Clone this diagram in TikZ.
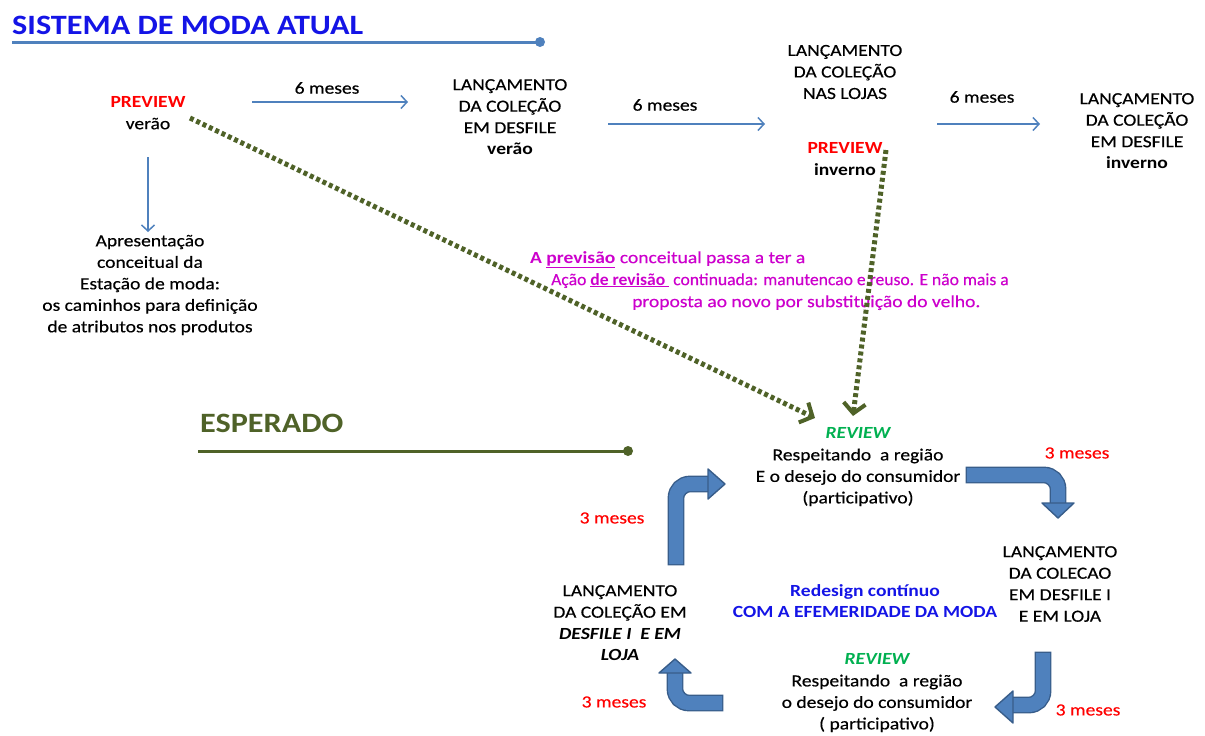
\documentclass[tikz,border=0pt]{standalone}
\usepackage{fontspec}
\usepackage{graphicx}
\setmainfont{Carlito}[FakeStretch=1.15, UprightFeatures={FakeBold=0.4}]
\usetikzlibrary{positioning,arrows.meta}
\definecolor{linhaazul}{HTML}{4F81BD}
\definecolor{bordaazul}{HTML}{385D8A}
\definecolor{oliva}{HTML}{4F6228}
\definecolor{rosa}{HTML}{CC00CC}
\definecolor{verde}{HTML}{00B050}
\definecolor{azultitulo}{HTML}{1414E6}
\tikzstyle{texto} = [align=center, inner sep=0pt, font=\fontsize{17}{21.5}\selectfont]
\tikzstyle{meses} = [texto, text=red]
\tikzstyle{fluxo} = [-{Straight Barb[length=6pt,width=13pt]}, linhaazul, line width=1.5pt]
\tikzstyle{pontilhado} = [oliva, line width=5pt, dash pattern=on 4pt off 3pt,
                          -{Straight Barb[length=10pt,width=22pt,line width=4pt]}]
\tikzstyle{haste} = [draw=bordaazul, line width=1.4pt, double=linhaazul, double distance=14pt,
                     line cap=rect, rounded corners=14pt]
\tikzstyle{ponta} = [draw=bordaazul, fill=linhaazul, line width=1.4pt, line join=round]

\begin{document}
\begin{tikzpicture}[x=1pt,y=-1pt]
		\useasboundingbox (0,0) rectangle (1205,736);

		% title
		\node[anchor=west, inner sep=0pt, text=azultitulo, font=\fontsize{28}{30}\selectfont\bfseries] (titulo) at (12,25) {SISTEMA DE MODA ATUAL};
		\coordinate (tit0) at (12,42);
		\coordinate (tit1) at (540,42);
		\draw[linhaazul, line width=3pt] (tit0) -- (tit1);
		\fill[linhaazul] (tit1) circle (5pt);

		% top row
		\node[texto] (prevv) at (148,113) {\textcolor{red}{\bfseries PREVIEW}\\verão};
		\node[texto] (desv) at (510,117) {LANÇAMENTO\\DA COLEÇÃO\\EM DESFILE\\\textbf{verão}};
		\node[texto] (lojas) at (845,72) {LANÇAMENTO\\DA COLEÇÃO\\NAS LOJAS};
		\node[texto] (previnv) at (845,159) {\textcolor{red}{\bfseries PREVIEW}\\\textbf{inverno}};
		\node[texto] (desinv) at (1137,131) {LANÇAMENTO\\DA COLEÇÃO\\EM DESFILE\\\textbf{inverno}};
		\node[texto] (apres) at (150,285) {Apresentação\\conceitual da\\Estação de moda:\\os caminhos para definição\\de atributos nos produtos};

		% six months arrows
		\node[texto] (seis1) at (327,88) {6 meses};
		\node[texto] (seis2) at (665,105) {6 meses};
		\node[texto] (seis3) at (982,97) {6 meses};
		\coordinate (f1a) at (252,102);
		\coordinate (f1b) at (408,102);
		\coordinate (f2a) at (608,124);
		\coordinate (f2b) at (765,124);
		\coordinate (f3a) at (937,124);
		\coordinate (f3b) at (1040,124);
		\coordinate (f4a) at (148,157);
		\coordinate (f4b) at (148,232);
		\draw[fluxo] (f1a) -- (f1b);
		\draw[fluxo] (f2a) -- (f2b);
		\draw[fluxo] (f3a) -- (f3b);
		\draw[fluxo] (f4a) -- (f4b);

		% note
		\node[anchor=north west, align=left, inner sep=0pt, text=rosa, font=\fontsize{17}{22}\selectfont] (nota) at (530,251)
			{\textbf{A \underline{previsão}} conceitual passa a ter a\\
			 \hspace*{21pt}\scalebox{0.9}[1]{Ação \textbf{\underline{de revisão\ }} continuada: manutencao e reuso. E não mais a}\\
			 \hspace*{102pt}proposta ao novo por substituição do velho.};

		% expected
		\node[anchor=west, inner sep=0pt, text=oliva, font=\fontsize{28}{30}\selectfont\bfseries] (esperado) at (200,423) {ESPERADO};
		\coordinate (esp0) at (198,451);
		\coordinate (esp1) at (628,451);
		\draw[oliva, line width=3pt] (esp0) -- (esp1);
		\fill[oliva] (esp1) circle (5pt);

		% cycle
		\node[texto] (revtop) at (858,467) {\textcolor{verde}{\bfseries\itshape REVIEW}\\Respeitando\ \ a região\\E o desejo do consumidor\\(participativo)};
		\node[texto] (lancr) at (1060,584) {LANÇAMENTO\\DA COLECAO\\EM DESFILE I\\E EM LOJA};
		\node[texto] (revbot) at (877,693) {\textcolor{verde}{\bfseries\itshape REVIEW}\\Respeitando\ \ a região\\o desejo do consumidor\\( participativo)};
		\node[texto] (lancl) at (620,623) {LANÇAMENTO\\DA COLEÇÃO EM\\\textbf{\textit{DESFILE I\ \ E EM}}\\\textbf{\textit{LOJA}}};
		\node[texto, text=azultitulo, font=\fontsize{17}{21.5}\selectfont\bfseries] (redesign) at (865,601) {Redesign contínuo\\COM A EFEMERIDADE DA MODA};
		\node[meses] (tres1) at (1077,453) {3 meses};
		\node[meses] (tres2) at (1088,710) {3 meses};
		\node[meses] (tres3) at (614,702) {3 meses};
		\node[meses] (tres4) at (612,518) {3 meses};

		% dotted arrows
		\coordinate (d1a) at (190,118);
		\coordinate (d1b) at (815,418);
		\coordinate (d2a) at (886,150);
		\coordinate (d2b) at (853,416);
		\draw[pontilhado] (d1a) -- (d1b);
		\draw[pontilhado] (d2a) -- (d2b);

		% block arrows
		\draw[haste] (974,475) -- (1058,475) -- (1058,499);
		\draw[ponta] (1042,503) -- (1058,518) -- (1074,503) -- cycle;
		\draw[haste] (1043,660) -- (1043,705) -- (1017,705);
		\draw[ponta] (1013,691) -- (995,707) -- (1013,723) -- cycle;
		\draw[haste] (715,703) -- (675,703) -- (675,677);
		\draw[ponta] (659,673) -- (675,659) -- (691,673) -- cycle;
		\draw[haste] (676,557) -- (676,484) -- (704,484);
		\draw[ponta] (708,469) -- (725,484) -- (708,499) -- cycle;
\end{tikzpicture}
\end{document}
